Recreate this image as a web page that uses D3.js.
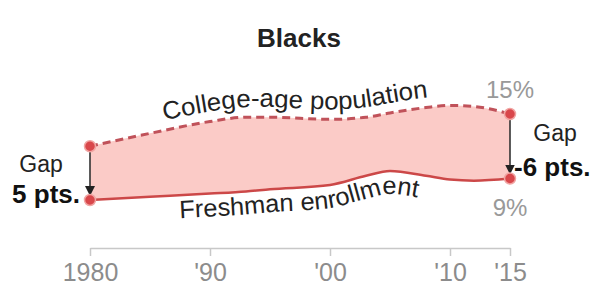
<!DOCTYPE html>
<html>
<head>
<meta charset="utf-8">
<script src="https://cdn.jsdelivr.net/npm/d3@7"></script>
<style>
  html, body { margin: 0; padding: 0; background: #fff; }
  svg { display: block; font-family: "Liberation Sans", Arial, sans-serif; }
</style>
</head>
<body>
<div id="chart"></div>
<script>
// data (share of total, %)
const years = [1980, 1985, 1990, 1993, 1995, 2000, 2003, 2005, 2008, 2010, 2012, 2015];
const population = [12.0, 13.2, 14.3, 14.7, 14.7, 14.5, 14.7, 15.1, 15.6, 15.8, 15.7, 15.0];
const enrollment = [7.0, 7.3, 7.6, 7.8, 8.0, 8.4, 9.25, 9.7, 9.25, 8.9, 8.8, 9.0];
const tickYears = [1980, 1990, 2000, 2010, 2015];
const tickLabels = ["1980", "'90", "'00", "'10", "'15"];

const width = 600, height = 306;

const rows = years.map((yr, i) => ({ year: yr, pop: population[i], enr: enrollment[i] }));
const first = rows[0], last = rows[rows.length - 1];

const svg = d3.select("#chart").append("svg")
    .attr("width", width)
    .attr("height", height);

const x = d3.scaleLinear().domain([1980, 2015]).range([90, 510]);
const y = d3.scaleLinear().domain([7, 15]).range([200, 114]);

// title
svg.append("text")
    .attr("x", 299).attr("y", 47)
    .attr("text-anchor", "middle")
    .style("font-size", "26px").style("font-weight", "bold")
    .attr("fill", "#222")
    .text("Blacks");

// shaded gap
const area = d3.area()
    .x(d => x(d.year))
    .y0(d => y(d.enr))
    .y1(d => y(d.pop))
    .curve(d3.curveMonotoneX);

svg.append("path")
    .datum(rows)
    .attr("d", area)
    .attr("fill", "#fbcbc7");

const popLine = d3.line().x(d => x(d.year)).y(d => y(d.pop)).curve(d3.curveMonotoneX);
const enrLine = d3.line().x(d => x(d.year)).y(d => y(d.enr)).curve(d3.curveMonotoneX);

svg.append("path")
    .datum(rows)
    .attr("d", popLine)
    .attr("fill", "none")
    .attr("stroke", "#c0525a")
    .attr("stroke-width", 3)
    .attr("stroke-dasharray", "8,5");

svg.append("path")
    .datum(rows)
    .attr("d", enrLine)
    .attr("fill", "none")
    .attr("stroke", "#cc4848")
    .attr("stroke-width", 2.5);

// curved labels, following the lines
const defs = svg.append("defs");
defs.append("path")
    .attr("id", "popPath")
    .attr("d", d3.line().x(d => x(d.year)).y(d => y(d.pop) - 10).curve(d3.curveMonotoneX)(rows));
defs.append("path")
    .attr("id", "enrPath")
    .attr("d", d3.line().x(d => x(d.year)).y(d => y(d.enr) + 23).curve(d3.curveMonotoneX)(rows));

svg.append("text")
    .style("font-size", "25px").attr("fill", "#222")
    .append("textPath")
    .attr("href", "#popPath")
    .attr("startOffset", 76)
    .attr("textLength", 266)
    .attr("lengthAdjust", "spacingAndGlyphs")
    .text("College-age population");

svg.append("text")
    .style("font-size", "25px").attr("fill", "#222")
    .append("textPath")
    .attr("href", "#enrPath")
    .attr("startOffset", 90)
    .attr("textLength", 240)
    .attr("lengthAdjust", "spacingAndGlyphs")
    .text("Freshman enrollment");

// gap arrows
defs.append("marker")
    .attr("id", "head")
    .attr("viewBox", "0 0 10 10")
    .attr("refX", 10).attr("refY", 5)
    .attr("markerWidth", 10).attr("markerHeight", 10)
    .attr("markerUnits", "userSpaceOnUse")
    .attr("orient", "auto")
    .append("path")
    .attr("d", "M0,0L10,5L0,10Z")
    .attr("fill", "#222");

[first, last].forEach(d => {
    svg.append("line")
        .attr("x1", x(d.year)).attr("x2", x(d.year))
        .attr("y1", y(d.pop)).attr("y2", y(d.enr) - 4)
        .attr("stroke", "#333")
        .attr("stroke-width", 1.6)
        .attr("marker-end", "url(#head)");
});

// end dots
const dots = [];
[first, last].forEach(d => { dots.push([d.year, d.pop]); dots.push([d.year, d.enr]); });
svg.selectAll("circle.dot")
    .data(dots)
    .enter().append("circle")
    .attr("class", "dot")
    .attr("cx", d => x(d[0]))
    .attr("cy", d => y(d[1]))
    .attr("r", 5.5)
    .attr("fill", "#d9474b")
    .attr("stroke", "#f1a5a3")
    .attr("stroke-width", 1.5);

// annotations
const gap0 = Math.round(first.pop - first.enr);
const gap1 = Math.round(last.enr - last.pop);

svg.append("text")
    .attr("x", 41).attr("y", 172)
    .attr("text-anchor", "middle")
    .style("font-size", "23px").attr("fill", "#222")
    .text("Gap");
svg.append("text")
    .attr("x", 80).attr("y", 203)
    .attr("text-anchor", "end")
    .style("font-size", "26px").style("font-weight", "bold").attr("fill", "#111")
    .text(gap0 + " pts.");

svg.append("text")
    .attr("x", 555).attr("y", 141)
    .attr("text-anchor", "middle")
    .style("font-size", "23px").attr("fill", "#222")
    .text("Gap");
svg.append("text")
    .attr("x", 514).attr("y", 176)
    .style("font-size", "26px").style("font-weight", "bold").attr("fill", "#111")
    .text(gap1 + " pts.");

svg.append("text")
    .attr("x", x(last.year)).attr("y", 98)
    .attr("text-anchor", "middle")
    .style("font-size", "24px").attr("fill", "#999")
    .text(Math.round(last.pop) + "%");
svg.append("text")
    .attr("x", x(last.year)).attr("y", 216)
    .attr("text-anchor", "middle")
    .style("font-size", "24px").attr("fill", "#999")
    .text(Math.round(last.enr) + "%");

// x axis
const axis = d3.axisBottom(x)
    .tickValues(tickYears)
    .tickFormat((d, i) => tickLabels[i])
    .tickSize(8)
    .tickSizeOuter(0)
    .tickPadding(7);

const gx = svg.append("g")
    .attr("transform", "translate(0,248)")
    .call(axis);
gx.select(".domain").attr("stroke", "#c8c8c8").attr("stroke-width", 1.5);
gx.selectAll(".tick line").attr("stroke", "#c8c8c8").attr("stroke-width", 1.5);
gx.selectAll(".tick text")
    .attr("fill", "#8c8c8c")
    .style("font-size", "25px")
    .style("font-family", "Liberation Sans, Arial, sans-serif");
</script>
</body>
</html>
